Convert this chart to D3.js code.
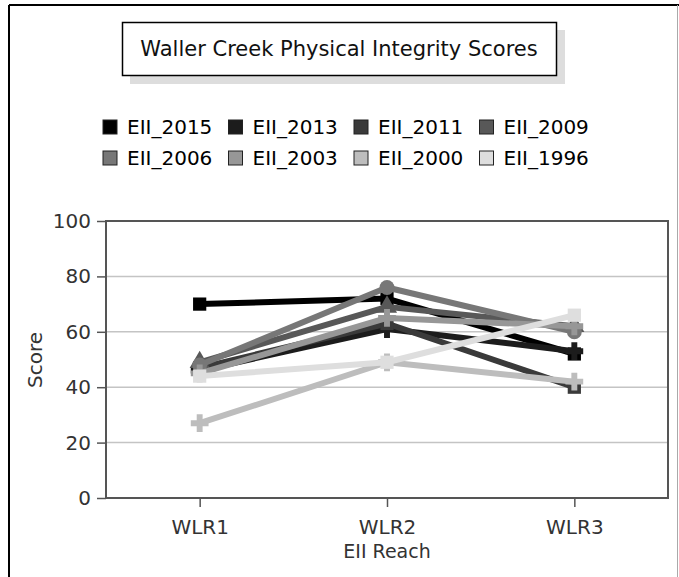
<!DOCTYPE html>
<html>
<head>
<meta charset="utf-8">
<script src="https://cdn.jsdelivr.net/npm/d3@7"></script>
<style>
  body { margin: 0; background: #fff; }
  svg { display: block; font-family: "DejaVu Sans", sans-serif; }
</style>
</head>
<body>
<svg id="chart" width="679" height="577"></svg>
<script>
'use strict';

// data
var reaches = ['WLR1', 'WLR2', 'WLR3'];
var seriesNames = ['EII_2015', 'EII_2013', 'EII_2011', 'EII_2009', 'EII_2006', 'EII_2003', 'EII_2000', 'EII_1996'];
var scores = [
  [70, 72, 52],
  [46, 61, 53],
  [47, 63, 40],
  [49, 69, 62],
  [48, 76, 60],
  [45, 65, 62],
  [27, 49, 42],
  [44, 49, 66]
];
var yTicks = [0, 20, 40, 60, 80, 100];

var colors = ['#000000', '#1c1c1c', '#3a3a3a', '#585858', '#777777', '#979797', '#bdbdbd', '#dedede'];
var shapes = [d3.symbolSquare, d3.symbolCross, d3.symbolSquare, d3.symbolTriangle, d3.symbolCircle, d3.symbolCross, d3.symbolCross, d3.symbolSquare];

var svg = d3.select('#chart');

// outer frame
svg.append('line').attr('x1', 9).attr('x2', 9).attr('y1', 5).attr('y2', 577).attr('stroke', '#000').attr('stroke-width', 2);
svg.append('line').attr('x1', 9).attr('x2', 679).attr('y1', 5).attr('y2', 5).attr('stroke', '#000').attr('stroke-width', 2);
svg.append('line').attr('x1', 677.5).attr('x2', 677.5).attr('y1', 5).attr('y2', 577).attr('stroke', '#aaa').attr('stroke-width', 1);

// title box with shadow
svg.append('rect').attr('x', 130).attr('y', 30).attr('width', 435).attr('height', 54).attr('fill', '#dddddd');
svg.append('rect').attr('x', 122.5).attr('y', 22.5).attr('width', 434).attr('height', 53)
  .attr('fill', '#fff').attr('stroke', '#000').attr('stroke-width', 1.5);
svg.append('text').attr('x', 339).attr('y', 56).attr('text-anchor', 'middle')
  .attr('font-size', 21).attr('fill', '#111').text('Waller Creek Physical Integrity Scores');

// legend
var legend = svg.append('g');
var item = legend.selectAll('g').data(seriesNames).enter().append('g')
  .attr('transform', function(d, i){
    return 'translate(' + (103 + (i % 4) * 125.5) + ',' + (120 + Math.floor(i / 4) * 31) + ')';
  });
item.append('rect').attr('width', 14).attr('height', 14)
  .attr('fill', function(d, i){ return colors[i]; })
  .attr('stroke', '#222').attr('stroke-width', 1);
item.append('text').attr('x', 24).attr('y', 14).attr('font-size', 20).attr('fill', '#000')
  .text(function(d){ return d; });

// plot
var pLeft = 106, pRight = 668, pTop = 221, pBottom = 498;
var x = d3.scalePoint().domain(reaches).range([pLeft, pRight]).padding(0.5);
var y = d3.scaleLinear().domain([0, 100]).range([pBottom, pTop]);

svg.append('g').selectAll('line').data(yTicks.slice(1, -1)).enter().append('line')
  .attr('x1', pLeft).attr('x2', pRight)
  .attr('y1', function(d){ return y(d); }).attr('y2', function(d){ return y(d); })
  .attr('stroke', '#c4c4c4').attr('stroke-width', 1.5);

svg.append('rect').attr('x', pLeft).attr('y', pTop).attr('width', pRight - pLeft).attr('height', pBottom - pTop)
  .attr('fill', 'none').attr('stroke', '#555').attr('stroke-width', 2);

var yAxis = svg.append('g').attr('transform', 'translate(' + pLeft + ',0)')
  .call(d3.axisLeft(y).tickValues(yTicks).tickSize(9).tickPadding(6));
var xAxis = svg.append('g').attr('transform', 'translate(0,' + pBottom + ')')
  .call(d3.axisBottom(x).tickSize(9).tickPadding(13));
[yAxis, xAxis].forEach(function(a){
  a.select('.domain').remove();
  a.selectAll('line').attr('stroke', '#555').attr('stroke-width', 1.5);
  a.selectAll('text').attr('font-size', 20).attr('fill', '#333').attr('font-family', '"DejaVu Sans", sans-serif');
});

svg.append('text').attr('transform', 'translate(42,360) rotate(-90)').attr('text-anchor', 'middle')
  .attr('font-size', 20).attr('fill', '#333').text('Score');
svg.append('text').attr('x', 387).attr('y', 558).attr('text-anchor', 'middle')
  .attr('font-size', 19).attr('fill', '#333').text('EII Reach');

// series lines and markers
var line = d3.line().x(function(d, i){ return x(reaches[i]); }).y(function(d){ return y(d); });
var series = svg.append('g').selectAll('g').data(scores).enter().append('g');
series.append('path').attr('d', function(d){ return line(d); })
  .attr('fill', 'none').attr('stroke', function(d, i){ return colors[i]; })
  .attr('stroke-width', 6).attr('stroke-linejoin', 'round');
series.each(function(vals, si){
  d3.select(this).selectAll('path.pt').data(vals).enter().append('path').attr('class', 'pt')
    .attr('d', d3.symbol().type(shapes[si]).size(175))
    .attr('transform', function(d, i){ return 'translate(' + x(reaches[i]) + ',' + y(d) + ')'; })
    .attr('fill', colors[si]);
});
</script>
</body>
</html>
